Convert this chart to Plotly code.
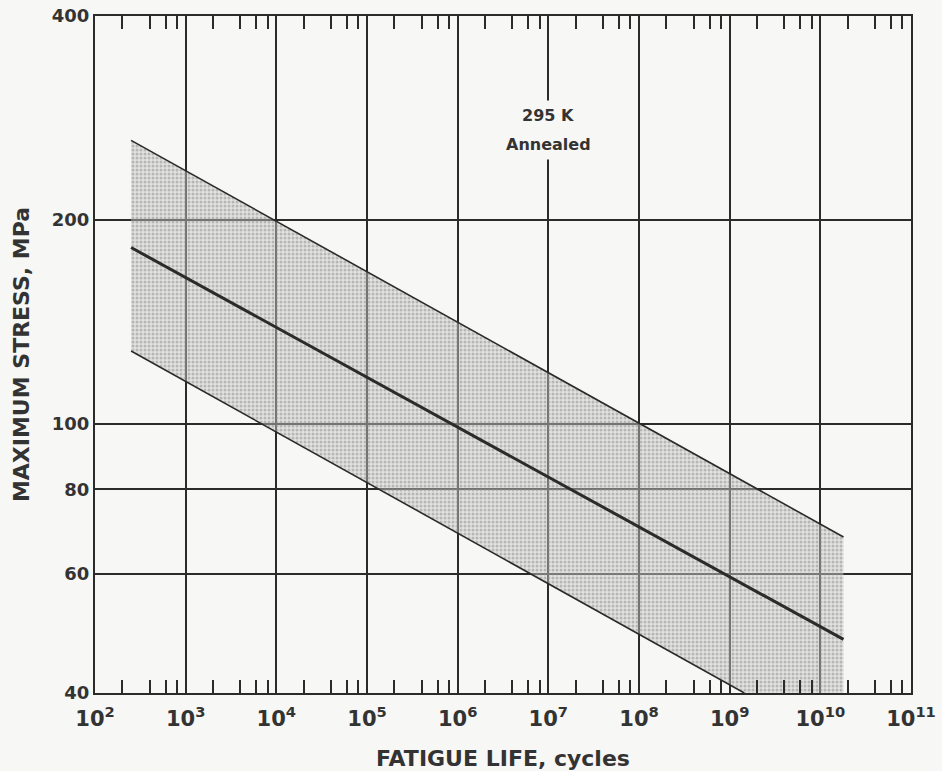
import math
import plotly.graph_objects as go

# ---- data ----
cycles_line = [250, 1.8e10]          # start / end of the band lines (cycles)
upper_stress = [262, 68]             # MPa
median_stress = [182, 48]            # MPa
lower_cycles = [250, 1.45e9]
lower_stress = [128, 40]             # MPa (reaches 40 MPa at ~1.45e9)

band_cycles = [250, 1.8e10, 1.8e10, 1.45e9, 250]
band_stress = [262, 68, 40, 40, 128]

x_tickvals = [1e2, 1e3, 1e4, 1e5, 1e6, 1e7, 1e8, 1e9, 1e10, 1e11]
x_ticktext = ["10<sup>%d</sup>" % e for e in range(2, 12)]
x_minor = [m * 10 ** e for e in range(2, 11) for m in (2, 4, 6, 8)]
y_tickvals = [40, 60, 80, 100, 200, 400]
y_ticktext = ["40", "60", "80", "100", "200", "400"]

label_lines = ["295 K", "Annealed"]
label_cycles = 1e7
label_stress = [285, 258]

INK = "#2b2b2b"
TXT = "#333333"
BG = "#f7f7f5"
FONT = "DejaVu Sans"

fig = go.Figure()

fig.add_trace(go.Scatter(
    x=band_cycles, y=band_stress, mode="none", fill="toself",
    fillcolor="rgba(195,195,195,0.5)",
    fillpattern=dict(shape=".", fgcolor="#8a8a8a", bgcolor="rgba(200,200,200,0.45)",
                     size=4, solidity=0.45, fillmode="overlay"),
    hoverinfo="skip", showlegend=False))

fig.add_trace(go.Scatter(x=cycles_line, y=upper_stress, mode="lines",
                         line=dict(color=INK, width=1.6), showlegend=False))
fig.add_trace(go.Scatter(x=cycles_line, y=median_stress, mode="lines",
                         line=dict(color=INK, width=3), showlegend=False))
fig.add_trace(go.Scatter(x=lower_cycles, y=lower_stress, mode="lines",
                         line=dict(color=INK, width=1.6), showlegend=False))

for txt, s in zip(label_lines, label_stress):
    fig.add_annotation(x=math.log10(label_cycles), xref="x", y=math.log10(s), yref="y",
                       text=txt, showarrow=False, bgcolor=BG, borderpad=5,
                       font=dict(family=FONT, size=16, color=TXT, weight=700),
                       xanchor="center", yanchor="middle")

fig.update_layout(
    width=942, height=771,
    margin=dict(l=95, r=31, t=16, b=78),
    paper_bgcolor=BG, plot_bgcolor=BG,
    font=dict(family=FONT, color=TXT, weight=700),
    showlegend=False,
    xaxis=dict(
        type="log", range=[2, 11], automargin=False,
        tickvals=x_tickvals, ticktext=x_ticktext,
        ticks="", ticklabelstandoff=6,
        tickfont=dict(size=21, family=FONT, color=TXT, weight=700),
        showgrid=True, gridcolor=INK, gridwidth=2,
        showline=True, linecolor=INK, linewidth=2, mirror="allticks",
        minor=dict(tickvals=x_minor, ticks="inside", ticklen=13, tickwidth=1.6,
                   tickcolor=INK, showgrid=False),
        title=dict(text="FATIGUE LIFE, cycles", standoff=20,
                   font=dict(size=22, family=FONT, color=TXT, weight=700)),
        zeroline=False,
    ),
    yaxis=dict(
        type="log", range=[math.log10(40), math.log10(400)], automargin=False,
        tickvals=y_tickvals, ticktext=y_ticktext,
        ticks="", tickfont=dict(size=18, family=FONT, color=TXT, weight=700),
        showgrid=True, gridcolor=INK, gridwidth=2,
        showline=True, linecolor=INK, linewidth=2, mirror=True,
        title=dict(text="MAXIMUM STRESS, MPa", standoff=16,
                   font=dict(size=22, family=FONT, color=TXT, weight=700)),
        zeroline=False,
    ),
)

fig.write_html("out.html")
